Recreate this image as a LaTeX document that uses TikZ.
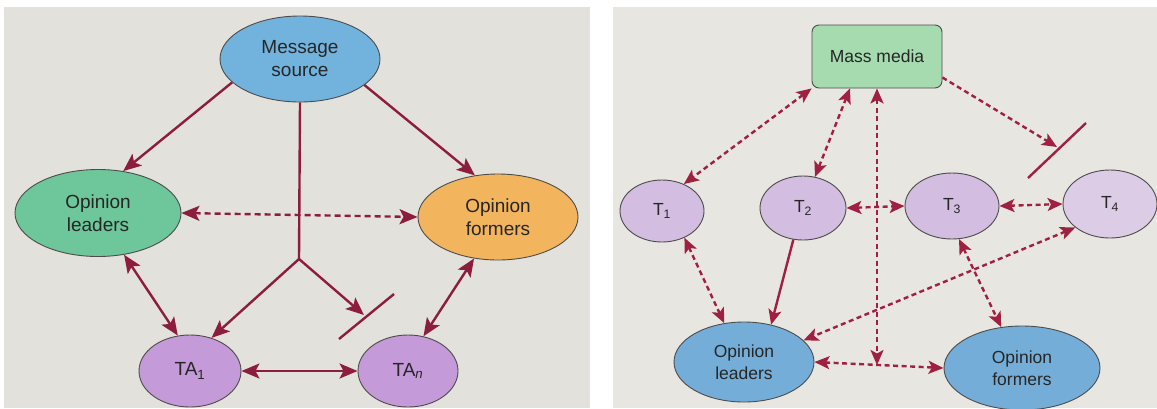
\documentclass[tikz,border=0pt]{standalone}
\usepackage{fontspec}
\setmainfont{Liberation Sans}
\usetikzlibrary{arrows.meta,shapes.geometric,calc}

\definecolor{paperL}{HTML}{E3E1DB}
\definecolor{paperR}{HTML}{E8E6E0}
\definecolor{wine}{HTML}{8C1D3C}
\definecolor{wineR}{HTML}{A02042}
\definecolor{srcblue}{HTML}{72B3DE}
\definecolor{leadgreen}{HTML}{6DC79B}
\definecolor{formorange}{HTML}{F2B55E}
\definecolor{tapurple}{HTML}{C49BD8}
\definecolor{tlav}{HTML}{D3BDE0}
\definecolor{tlavlight}{HTML}{DCCCE6}
\definecolor{mediagreen}{HTML}{A6DBB0}
\definecolor{opblue}{HTML}{74AED8}

\begin{document}
\begin{tikzpicture}[x=1pt,y=-1pt,
  oval/.style={ellipse, draw=black!70, line width=0.9pt, inner sep=0pt,
    align=center, text=black!85},
  bigtext/.style={font=\fontsize{19}{23}\selectfont},
  smalltext/.style={font=\fontsize{17.5}{21.5}\selectfont},
  wire/.style={draw=wine, line width=2.4pt},
  link/.style={wire, -{Stealth[length=18pt,width=15pt,inset=4pt]}},
  dlink/.style={wire, {Stealth[length=18pt,width=15pt,inset=4pt]}-{Stealth[length=18pt,width=15pt,inset=4pt]}},
  rwire/.style={draw=wineR, line width=2.4pt},
  rdash/.style={rwire, dash pattern=on 5pt off 3.5pt},
  rlink/.style={rdash, -{Stealth[length=15pt,width=13pt,inset=3.5pt]}},
  rdlink/.style={rdash, {Stealth[length=15pt,width=13pt,inset=3.5pt]}-{Stealth[length=15pt,width=13pt,inset=3.5pt]}},
]
\useasboundingbox (0,0) rectangle (1157,408);
\fill[white] (0,0) rectangle (1157,408);
\fill[paperL] (4,7) rectangle (590,408);
\fill[paperR] (613,7) rectangle (1157,408);

% ---------- multi-step flow ----------
\node[oval, bigtext, fill=srcblue, minimum width=160pt, minimum height=86pt] (ms) at (300,59) {Message\\source};
\node[oval, bigtext, fill=leadgreen, minimum width=166pt, minimum height=87pt] (ol) at (98,213) {Opinion\\leaders};
\node[oval, bigtext, fill=formorange, minimum width=160pt, minimum height=86pt] (of) at (498,217) {Opinion\\formers};
\node[oval, bigtext, fill=tapurple, minimum width=102pt, minimum height=72pt] (ta1) at (190,371) {TA\textsubscript{1}};
\node[oval, bigtext, fill=tapurple, minimum width=100pt, minimum height=72pt] (tan) at (408,371) {TA\textsubscript{\itshape n}};

\coordinate (j) at (299,259);
\coordinate (stop) at (364,315);
\coordinate (barA) at (339,339);
\coordinate (barB) at (394,294);

\draw[link] (ms.199.4) -- (ol.59.7);
\draw[link] (ms.338.8) -- (of.119.2);
\draw[wire] (ms.south) -- (j);
\draw[link] (j) -- (ta1.57.1);
\draw[link] (j) -- (stop);
\draw[wire] (barA) -- (barB);
\draw[dlink, dash pattern=on 6pt off 4pt] (ol.east) -- (of.west);
\draw[dlink] (ol.302.5) -- (ta1.109.9);
\draw[dlink] (of.240.3) -- (tan.66.8);
\draw[dlink] (ta1.east) -- (tan.west);

% ---------- multi-step with target groups ----------
\node[draw=black!70, line width=0.9pt, rounded corners=7pt, fill=mediagreen,
  minimum width=130pt, minimum height=63pt, inner sep=0pt, smalltext, text=black!85] (mm) at (877,56.5) {Mass media};
\node[oval, smalltext, fill=tlav, minimum width=84pt, minimum height=62pt] (t1) at (662,211) {T\textsubscript{1}};
\node[oval, smalltext, fill=tlav, minimum width=86pt, minimum height=64pt] (t2) at (803,208) {T\textsubscript{2}};
\node[oval, smalltext, fill=tlav, minimum width=94pt, minimum height=66pt] (t3) at (952,206) {T\textsubscript{3}};
\node[oval, smalltext, fill=tlavlight, minimum width=94pt, minimum height=68pt] (t4) at (1110,204) {T\textsubscript{4}};
\node[oval, smalltext, fill=opblue, minimum width=140pt, minimum height=80pt] (rl) at (744,362) {Opinion\\leaders};
\node[oval, smalltext, fill=opblue, minimum width=156pt, minimum height=84pt] (rf) at (1022,368) {Opinion\\formers};

\coordinate (x) at (877,365);
\coordinate (rstop) at (1057,147);
\coordinate (rbarA) at (1028,178);
\coordinate (rbarB) at (1086,123);

\draw[rdlink] (mm.south west) -- (t1.51.8);
\draw[rdlink] ([xshift=-27pt]mm.south) -- (t2.69.4);
\draw[rdlink] (mm.south) -- (x);
\draw[rlink] ([yshift=-21pt]mm.east) -- (rstop);
\draw[rwire] (rbarA) -- (rbarB);
\draw[rdlink] (t2.east) -- (t3.west);
\draw[rdlink] (t3.east) -- (t4.west);
\draw[rdlink] (t1.310.9) -- (rl.117.7);
\draw[rwire, -{Stealth[length=15pt,width=13pt,inset=3.5pt]}] (t2.253.1) -- (rl.54.9);
\draw[rdlink] (t4.214) -- (rl.20.4);
\draw[rdlink] (t3.282.9) -- (rf.117.6);
\draw[rdlink] (rl.east) -- (rf.west);
\end{tikzpicture}
\end{document}
